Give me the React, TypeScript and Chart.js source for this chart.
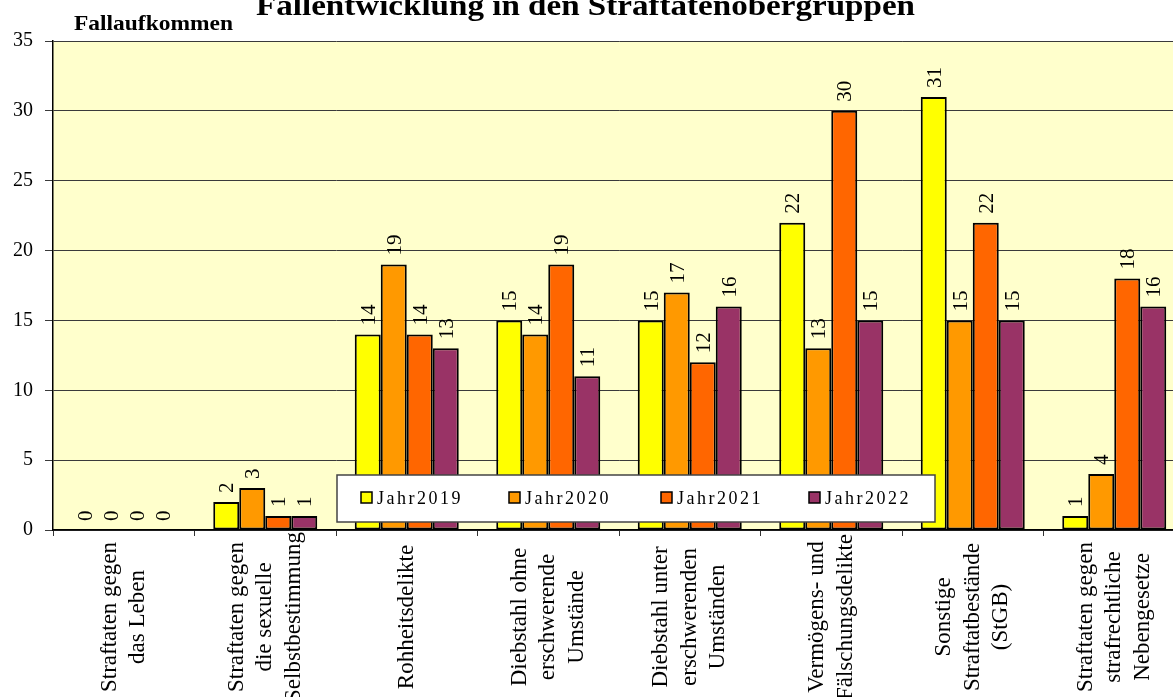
import React, { useEffect, useRef } from "react";
import { Chart, registerables } from "chart.js";

Chart.register(...registerables);

const FONT = "'Liberation Serif', 'Times New Roman', serif";

const chartTitle = "Fallentwicklung in den Straftatenobergruppen";
const yAxisTitle = "Fallaufkommen";

const categories: string[][] = [
  ["Straftaten gegen", "das Leben"],
  ["Straftaten gegen", "die sexuelle", "Selbstbestimmung"],
  ["Rohheitsdelikte"],
  ["Diebstahl ohne", "erschwerende", "Umstände"],
  ["Diebstahl unter", "erschwerenden", "Umständen"],
  ["Vermögens- und", "Fälschungsdelikte"],
  ["Sonstige", "Straftatbestände", "(StGB)"],
  ["Straftaten gegen", "strafrechtliche", "Nebengesetze"],
];

const seriesNames = ["Jahr2019", "Jahr2020", "Jahr2021", "Jahr2022"];
const values2019 = [0, 2, 14, 15, 15, 22, 31, 1];
const values2020 = [0, 3, 19, 14, 17, 13, 15, 4];
const values2021 = [0, 1, 14, 19, 12, 30, 22, 18];
const values2022 = [0, 1, 13, 11, 16, 15, 15, 16];
const seriesColors = ["#FFFF00", "#FF9900", "#FF6600", "#993366"];

const yMin = 0;
const yMax = 35;
const yStep = 5;

function fitText(
  ctx: CanvasRenderingContext2D,
  text: string,
  x: number,
  y: number,
  width: number,
  font: string
) {
  ctx.save();
  ctx.font = font;
  ctx.textAlign = "left";
  ctx.textBaseline = "alphabetic";
  const w = ctx.measureText(text).width;
  ctx.translate(x, y);
  ctx.scale(width / w, 1);
  ctx.fillText(text, 0, 0);
  ctx.restore();
}

const decorPlugin = {
  id: "decor",
  beforeDraw(chart: any) {
    const { ctx, chartArea: a } = chart;
    ctx.save();
    ctx.fillStyle = "#FFFFCC";
    ctx.fillRect(a.left, a.top, a.right - a.left, a.bottom - a.top);
    ctx.restore();
  },
  afterDatasetsDraw(chart: any) {
    const ctx: CanvasRenderingContext2D = chart.ctx;
    ctx.save();
    ctx.fillStyle = "#000";

    // value labels
    ctx.font = `21px ${FONT}`;
    ctx.textAlign = "left";
    ctx.textBaseline = "alphabetic";
    chart.data.datasets.forEach((ds: any, di: number) => {
      const meta = chart.getDatasetMeta(di);
      meta.data.forEach((el: any, i: number) => {
        ctx.save();
        ctx.translate(el.x, el.y - 9);
        ctx.rotate(-Math.PI / 2);
        ctx.fillText(String(ds.data[i]), 0, 7);
        ctx.restore();
      });
    });

    // legend box
    const lx = 337, ly = 475, lw = 598, lh = 47;
    ctx.fillStyle = "#FFFFFF";
    ctx.fillRect(lx, ly, lw, lh);
    ctx.strokeStyle = "#444";
    ctx.lineWidth = 1.5;
    ctx.strokeRect(lx, ly, lw, lh);
    const sqX = [361, 509, 661, 809];
    const cy = 498;
    ctx.font = `18px ${FONT}`;
    (ctx as any).letterSpacing = "2.5px";
    ctx.textBaseline = "middle";
    seriesNames.forEach((name, i) => {
      ctx.fillStyle = seriesColors[i];
      ctx.fillRect(sqX[i], cy - 6, 11, 11);
      ctx.strokeStyle = "#000";
      ctx.lineWidth = 1.5;
      ctx.strokeRect(sqX[i], cy - 6, 11, 11);
      ctx.fillStyle = "#000";
      ctx.fillText(name, sqX[i] + 16, cy + 1);
    });
    (ctx as any).letterSpacing = "0px";

    // category labels
    const xs = chart.scales.x;
    ctx.font = `23px ${FONT}`;
    ctx.textAlign = "center";
    ctx.textBaseline = "middle";
    categories.forEach((lines, i) => {
      const cx = xs.getPixelForValue(i);
      const n = lines.length;
      ctx.save();
      ctx.translate(cx, 617);
      ctx.rotate(-Math.PI / 2);
      lines.forEach((line, j) => {
        ctx.fillText(line, 0, (j - (n - 1) / 2) * 28.5);
      });
      ctx.restore();
    });

    // titles
    ctx.fillStyle = "#000";
    fitText(ctx, chartTitle, 256, 15, 659, `bold 30px ${FONT}`);
    fitText(ctx, yAxisTitle, 74, 30, 159, `bold 21px ${FONT}`);

    ctx.restore();
  },
};

export default function App() {
  const ref = useRef<HTMLCanvasElement | null>(null);

  useEffect(() => {
    if (!ref.current) return;
    const seriesValues = [values2019, values2020, values2021, values2022];
    const chart = new Chart(ref.current, {
      type: "bar",
      data: {
        labels: categories.map((c) => c.join(" ")),
        datasets: seriesNames.map((name, i) => ({
          label: name,
          data: seriesValues[i],
          backgroundColor: seriesColors[i],
          borderColor: "#000",
          borderWidth: 2,
          borderSkipped: false,
          barPercentage: 1,
          categoryPercentage: 0.735,
        })),
      },
      options: {
        animation: false,
        responsive: false,
        devicePixelRatio: 1,
        layout: { padding: { top: 41, left: 0, right: 5, bottom: 167 } },
        plugins: {
          legend: { display: false },
          tooltip: { enabled: false },
          title: { display: false },
        },
        scales: {
          x: {
            offset: true,
            ticks: { display: false },
            grid: {
              display: true,
              drawOnChartArea: false,
              drawTicks: true,
              tickLength: 6,
              color: "#333",
              offset: true,
            },
            border: { display: true, color: "#000", width: 1.5 },
            afterFit: (s: any) => {
              s.height = 0;
            },
          },
          y: {
            min: yMin,
            max: yMax,
            ticks: {
              stepSize: yStep,
              color: "#000",
              padding: 12,
              font: { family: FONT, size: 20 },
            },
            grid: {
              color: "#3a3a3a",
              lineWidth: 1,
              drawTicks: true,
              tickLength: 8,
            },
            border: { display: true, color: "#000", width: 1.5 },
            afterFit: (s: any) => {
              s.width = 53;
            },
          },
        },
      },
      plugins: [decorPlugin],
    } as any);
    return () => chart.destroy();
  }, []);

  return (
    <canvas
      ref={ref}
      width={1190}
      height={697}
      style={{ position: "fixed", left: 0, top: 0 }}
    />
  );
}
